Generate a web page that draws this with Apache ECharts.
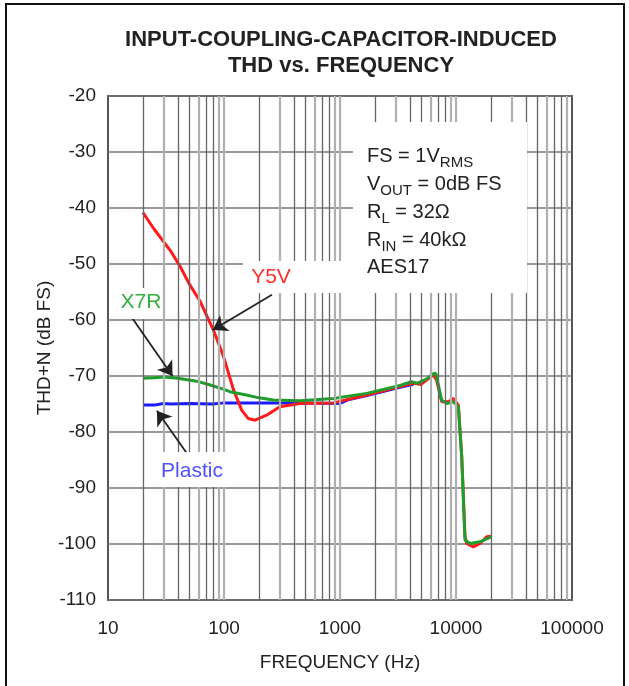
<!DOCTYPE html>
<html>
<head>
<meta charset="utf-8">
<script src="https://cdn.jsdelivr.net/npm/echarts@6.0.0/dist/echarts.min.js"></script>
<style>
  html, body { margin: 0; padding: 0; background: #fff; }
  #chart { width: 629px; height: 686px; }
</style>
</head>
<body>
<div id="chart"></div>
<script>
// frequency (Hz) / THD+N (dB FS)
const y5vFreq = [20, 25, 35, 42, 50, 62, 81, 99, 120, 142, 162, 185, 233, 303, 452, 875, 1700, 3290, 4290, 5000, 6370, 6800, 7520, 8580, 9480, 10480, 11200, 11960, 12370, 14100, 16100, 18400, 20300];
const y5vThd  = [-40.8, -43.8, -47.8, -50.5, -53.5, -56.6, -61.8, -66.5, -72.3, -76.1, -77.6, -77.9, -77.0, -75.5, -74.9, -74.8, -73.4, -71.9, -71.3, -71.5, -69.8, -70.7, -74.6, -74.6, -74.0, -75.2, -84.4, -98.7, -99.9, -100.5, -99.9, -98.7, -98.6];

const x7rFreq = [20, 25, 30, 40, 60, 76, 100, 112, 156, 200, 266, 452, 875, 1700, 3290, 4140, 4600, 5500, 6370, 6700, 7520, 8320, 9480, 10480, 11200, 11960, 13200, 16100, 20300];
const x7rThd  = [-70.4, -70.3, -70.2, -70.4, -71.0, -71.6, -72.4, -72.8, -73.4, -73.9, -74.3, -74.4, -74.0, -73.1, -71.7, -71.0, -71.3, -70.6, -69.6, -69.5, -74.3, -74.9, -74.6, -75.5, -84.4, -99.3, -99.9, -99.6, -98.7];

const plasticFreq = [20, 25, 30, 35, 50, 80, 100, 200, 500, 1000, 1150, 1700, 3290, 4300];
const plasticThd  = [-75.2, -75.2, -74.9, -75.0, -74.9, -75.0, -74.8, -74.8, -74.8, -74.9, -74.3, -73.5, -72.0, -71.5];

const yTicks = [-110, -100, -90, -80, -70, -60, -50, -40, -30, -20];
const xDecades = [10, 100, 1000, 10000, 100000];

const FONT = '"Liberation Sans", Arial, sans-serif';

function pairs(xs, ys) {
  return xs.map((x, i) => [x, ys[i]]);
}

// log-decade vertical grid lines (2..9 in each decade plus the decade lines)
const darkMult = [2, 4, 5, 7, 8];
const vLines = [];
xDecades.slice(0, -1).forEach((d, k) => {
  for (let m = 1; m <= 9; m++) {
    if (m === 1 && k === 0) continue;
    const dark = darkMult.indexOf(m) >= 0;
    vLines.push({
      xAxis: d * m,
      lineStyle: dark
        ? { color: '#666', width: 1.3, type: 'solid' }
        : { color: '#b0b0b0', width: 2.2, type: 'solid' }
    });
  }
});

const chart = echarts.init(document.getElementById('chart'));

const option = {
  animation: false,
  backgroundColor: '#fff',
  grid: {
    left: 108, right: 57, top: 96, bottom: 86,
    show: true, borderColor: '#555', borderWidth: 2
  },
  xAxis: {
    type: 'log',
    logBase: 10,
    min: 10,
    max: 100000,
    name: 'FREQUENCY (Hz)',
    nameLocation: 'middle',
    nameGap: 53,
    nameMoveOverlap: false,
    nameTextStyle: { fontFamily: FONT, fontSize: 19, color: '#222' },
    axisLine: { show: false },
    axisTick: { show: false },
    splitLine: { show: false },
    axisLabel: {
      fontFamily: FONT, fontSize: 19, color: '#222', margin: 19,
      formatter: v => String(Math.round(v))
    }
  },
  yAxis: {
    type: 'value',
    min: -110,
    max: -20,
    interval: 10,
    name: 'THD+N (dB FS)',
    nameLocation: 'middle',
    nameGap: 54,
    nameMoveOverlap: false,
    nameTextStyle: { fontFamily: FONT, fontSize: 19, color: '#222' },
    axisLine: { show: false },
    axisTick: { show: false },
    splitLine: { lineStyle: { color: '#777', width: 1.6 } },
    axisLabel: { fontFamily: FONT, fontSize: 19, color: '#222', margin: 12 }
  },
  graphic: [
    { type: 'rect', z: 0, shape: { x: 6, y: 4, width: 618, height: 700 },
      style: { fill: 'none', stroke: '#111', lineWidth: 2 } },
    // white boxes behind the notes and labels
    { type: 'rect', z: 10, shape: { x: 353, y: 122, width: 174, height: 171 }, style: { fill: '#fff' } },
    { type: 'rect', z: 10, shape: { x: 243, y: 261, width: 110, height: 32 }, style: { fill: '#fff' } },
    { type: 'rect', z: 10, shape: { x: 109, y: 288, width: 50, height: 31 }, style: { fill: '#fff' } },
    { type: 'rect', z: 10, shape: { x: 150, y: 452, width: 85, height: 35 }, style: { fill: '#fff' } },
    // title
    { type: 'text', z: 20, x: 341, y: 40,
      style: { text: 'INPUT-COUPLING-CAPACITOR-INDUCED', fontFamily: FONT, fontSize: 22, fontWeight: 'bold',
               fill: '#222', align: 'center', verticalAlign: 'middle' } },
    { type: 'text', z: 20, x: 341, y: 66,
      style: { text: 'THD vs. FREQUENCY', fontFamily: FONT, fontSize: 22, fontWeight: 'bold',
               fill: '#222', align: 'center', verticalAlign: 'middle' } },
    // conditions
    { type: 'text', z: 20, x: 367, y: 155,
      style: { text: '{m|FS = 1V}{s|RMS}', fill: '#222', verticalAlign: 'middle',
               rich: { m: { fontFamily: FONT, fontSize: 20, lineHeight: 22, verticalAlign: 'bottom' },
                       s: { fontFamily: FONT, fontSize: 15, lineHeight: 22, verticalAlign: 'bottom', padding: [0, 0, -4, 0] } } } },
    { type: 'text', z: 20, x: 367, y: 183,
      style: { text: '{m|V}{s|OUT}{m| = 0dB FS}', fill: '#222', verticalAlign: 'middle',
               rich: { m: { fontFamily: FONT, fontSize: 20, lineHeight: 22, verticalAlign: 'bottom' },
                       s: { fontFamily: FONT, fontSize: 15, lineHeight: 22, verticalAlign: 'bottom', padding: [0, 0, -4, 0] } } } },
    { type: 'text', z: 20, x: 367, y: 211,
      style: { text: '{m|R}{s|L}{m| = 32Ω}', fill: '#222', verticalAlign: 'middle',
               rich: { m: { fontFamily: FONT, fontSize: 20, lineHeight: 22, verticalAlign: 'bottom' },
                       s: { fontFamily: FONT, fontSize: 15, lineHeight: 22, verticalAlign: 'bottom', padding: [0, 0, -4, 0] } } } },
    { type: 'text', z: 20, x: 367, y: 239,
      style: { text: '{m|R}{s|IN}{m| = 40kΩ}', fill: '#222', verticalAlign: 'middle',
               rich: { m: { fontFamily: FONT, fontSize: 20, lineHeight: 22, verticalAlign: 'bottom' },
                       s: { fontFamily: FONT, fontSize: 15, lineHeight: 22, verticalAlign: 'bottom', padding: [0, 0, -4, 0] } } } },
    { type: 'text', z: 20, x: 367, y: 267,
      style: { text: 'AES17', fontFamily: FONT, fontSize: 20, fill: '#222', verticalAlign: 'middle' } },
    // curve labels
    { type: 'text', z: 20, x: 271, y: 277,
      style: { text: 'Y5V', fontFamily: FONT, fontSize: 21, fill: '#ff3030', align: 'center', verticalAlign: 'middle' } },
    { type: 'text', z: 20, x: 141, y: 302,
      style: { text: 'X7R', fontFamily: FONT, fontSize: 21, fill: '#33b040', align: 'center', verticalAlign: 'middle' } },
    { type: 'text', z: 20, x: 192, y: 471,
      style: { text: 'Plastic', fontFamily: FONT, fontSize: 21, fill: '#5050ff', align: 'center', verticalAlign: 'middle' } }
  ],
  series: [
    {
      name: 'grid',
      type: 'line',
      data: [],
      silent: true,
      markLine: {
        silent: true,
        symbol: 'none',
        label: { show: false },
        data: vLines
      }
    },
    {
      name: 'arrows',
      type: 'line',
      data: [],
      silent: true,
      markLine: {
        silent: true,
        z: 6,
        symbol: ['none', 'arrow'],
        symbolSize: 14,
        label: { show: false },
        lineStyle: { color: '#222', width: 1.8, type: 'solid' },
        data: [
          [{ coord: [259, -55.5] }, { coord: [80, -61.8] }],
          [{ coord: [16.1, -59.6] }, { coord: [36, -70.0] }],
          [{ coord: [50.9, -84.6] }, { coord: [26.4, -76.2] }]
        ]
      }
    },
    {
      name: 'Plastic',
      type: 'line',
      showSymbol: false,
      data: pairs(plasticFreq, plasticThd),
      lineStyle: { color: '#1a1aff', width: 3 },
      z: 2
    },
    {
      name: 'Y5V',
      type: 'line',
      showSymbol: false,
      data: pairs(y5vFreq, y5vThd),
      lineStyle: { color: '#ff1a1a', width: 3 },
      z: 3
    },
    {
      name: 'X7R',
      type: 'line',
      showSymbol: false,
      data: pairs(x7rFreq, x7rThd),
      lineStyle: { color: '#1e9e2a', width: 3 },
      z: 4
    }
  ]
};

chart.setOption(option);
</script>
</body>
</html>
